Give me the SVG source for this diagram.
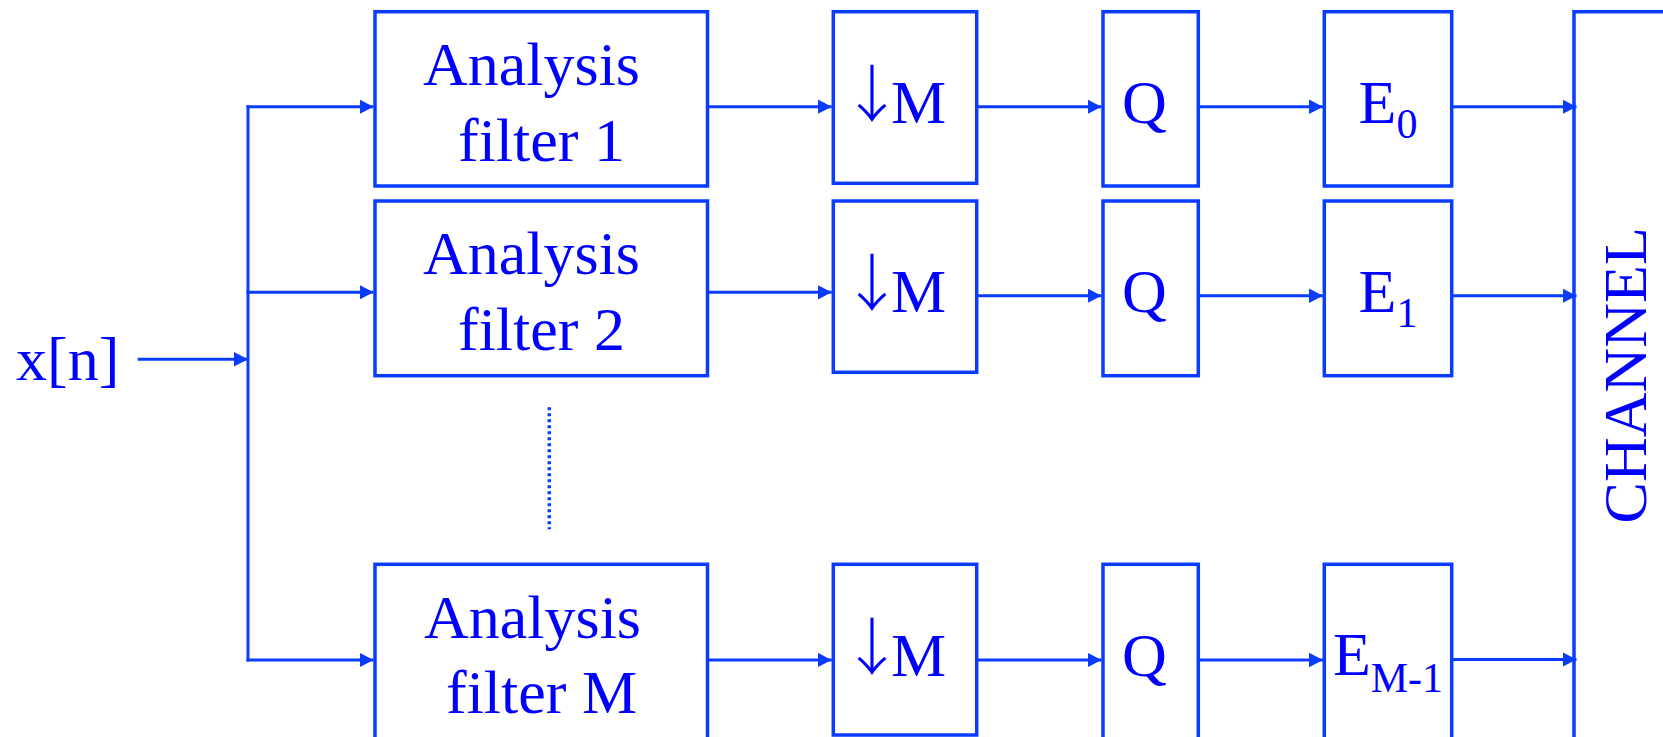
<svg xmlns="http://www.w3.org/2000/svg" width="1663" height="737" viewBox="0 0 1663 737">
  <style>
    .box { fill: #ffffff; stroke: #0A3CFF; stroke-width: 3.5; }
    .wire { fill: none; stroke: #0A3CFF; stroke-width: 3; }
    .arrow { fill: none; stroke: #0A3CFF; stroke-width: 3; marker-end: url(#head); }
    .dots { fill: none; stroke: #0A3CFF; stroke-width: 3.5; stroke-dasharray: 3 3; }
    .lbl { font-family: "Liberation Serif", "Times New Roman", serif; font-size: 62px; fill: #0000FF; }
    .sub { font-size: 42px; }
    .dn { font-family: "Noto Sans CJK JP", "Noto Sans CJK SC", sans-serif; font-weight: 300; }
  </style>
  <defs>
    <marker id="head" markerUnits="userSpaceOnUse" markerWidth="15" markerHeight="15" refX="14" refY="7.25" orient="auto">
      <path d="M0,0 L14,7.25 L0,14.5 Z" fill="#0A3CFF"/>
    </marker>
  </defs>

  <rect width="1663" height="737" fill="#ffffff"/>

  <!-- input label -->
  <g id="input">
    <text class="lbl" x="16" y="380">x[n]</text>
  </g>

  <!-- analysis filters -->
  <g id="analysis-1">
    <rect class="box" x="375" y="11.7" width="332.5" height="174.3"/>
    <text class="lbl" x="423" y="85">Analysis</text>
    <text class="lbl" x="458" y="160.7">filter 1</text>
  </g>
  <g id="analysis-2">
    <rect class="box" x="375" y="201" width="332.5" height="174.7"/>
    <text class="lbl" x="423" y="274">Analysis</text>
    <text class="lbl" x="458" y="350">filter 2</text>
  </g>
  <g id="analysis-M">
    <rect class="box" x="375" y="564.3" width="332.5" height="220"/>
    <text class="lbl" x="424" y="637.7">Analysis</text>
    <text class="lbl" x="446" y="713.3">filter M</text>
  </g>

  <!-- downsamplers: down arrow and M -->
  <g id="down-1">
    <rect class="box" x="833.3" y="11.7" width="143.4" height="171.6"/>
    <text class="lbl" x="841" y="122.7"><tspan class="dn" dy="-5.7">↓</tspan><tspan dx="-12" dy="5.7">M</tspan></text>
  </g>
  <g id="down-2">
    <rect class="box" x="833.3" y="201" width="143.4" height="171.3"/>
    <text class="lbl" x="841" y="311.7"><tspan class="dn" dy="-5.7">↓</tspan><tspan dx="-12" dy="5.7">M</tspan></text>
  </g>
  <g id="down-M">
    <rect class="box" x="833.3" y="564.3" width="143.4" height="170.7"/>
    <text class="lbl" x="841" y="676"><tspan class="dn" dy="-5.7">↓</tspan><tspan dx="-12" dy="5.7">M</tspan></text>
  </g>

  <!-- quantizers -->
  <g id="quant-1">
    <rect class="box" x="1103" y="11.7" width="95.3" height="174.3"/>
    <text class="lbl" x="1122" y="122.7">Q</text>
  </g>
  <g id="quant-2">
    <rect class="box" x="1103" y="201" width="95.3" height="174.7"/>
    <text class="lbl" x="1122" y="311.7">Q</text>
  </g>
  <g id="quant-M">
    <rect class="box" x="1103" y="564.3" width="95.3" height="220"/>
    <text class="lbl" x="1122" y="676">Q</text>
  </g>

  <!-- entropy coders -->
  <g id="enc-0">
    <rect class="box" x="1324.3" y="11.7" width="127.4" height="174.3"/>
    <text class="lbl" x="1388" y="122.7" text-anchor="middle">E<tspan class="sub" dy="15">0</tspan></text>
  </g>
  <g id="enc-1">
    <rect class="box" x="1324.3" y="201" width="127.4" height="174.7"/>
    <text class="lbl" x="1388" y="311.7" text-anchor="middle">E<tspan class="sub" dy="15.6">1</tspan></text>
  </g>
  <g id="enc-M1">
    <rect class="box" x="1324.3" y="564.3" width="127.4" height="220"/>
    <text class="lbl" x="1388" y="675" text-anchor="middle">E<tspan class="sub" dy="17">M-1</tspan></text>
  </g>

  <!-- channel -->
  <g id="channel">
    <rect class="box" x="1574" y="11.7" width="200" height="800"/>
    <text class="lbl" transform="translate(1646,375.3) rotate(-90)" x="0" y="0" text-anchor="middle">CHANNEL</text>
  </g>

  <!-- connectors -->
  <g id="connectors">
    <line class="arrow" x1="137.7" y1="359.3" x2="248" y2="359.3"/>
    <line class="wire" x1="248" y1="105.2" x2="248" y2="661.5"/>
    <line class="arrow" x1="246.5" y1="106.7" x2="373.5" y2="106.7"/>
    <line class="arrow" x1="246.5" y1="292.3" x2="373.5" y2="292.3"/>
    <line class="arrow" x1="246.5" y1="660" x2="373.5" y2="660"/>

    <line class="arrow" x1="707.5" y1="106.7" x2="831.7" y2="106.7"/>
    <line class="arrow" x1="707.5" y1="292.3" x2="831.7" y2="292.3"/>
    <line class="arrow" x1="707.5" y1="660" x2="831.7" y2="660"/>

    <line class="arrow" x1="976.7" y1="106.7" x2="1101.5" y2="106.7"/>
    <line class="arrow" x1="976.7" y1="295.7" x2="1101.5" y2="295.7"/>
    <line class="arrow" x1="976.7" y1="660" x2="1101.5" y2="660"/>

    <line class="arrow" x1="1198.3" y1="106.7" x2="1323" y2="106.7"/>
    <line class="arrow" x1="1198.3" y1="295.7" x2="1323" y2="295.7"/>
    <line class="arrow" x1="1198.3" y1="660" x2="1323" y2="660"/>

    <line class="arrow" x1="1451.7" y1="106.7" x2="1576.5" y2="106.7"/>
    <line class="arrow" x1="1451.7" y1="295.7" x2="1576.5" y2="295.7"/>
    <line class="arrow" x1="1451.7" y1="659.5" x2="1576.5" y2="659.5"/>

    <line class="dots" x1="549.3" y1="407.3" x2="549.3" y2="529.3"/>
  </g>
</svg>
